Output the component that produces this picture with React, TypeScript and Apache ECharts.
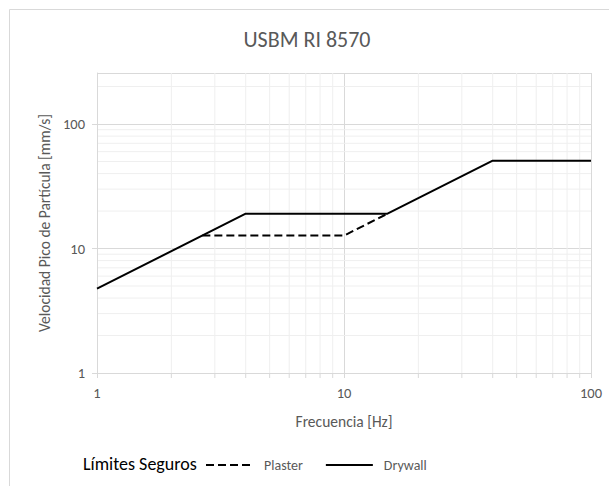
import React, { useEffect, useRef } from "react";
import * as echarts from "echarts";

const TITLE = "USBM RI 8570";
const X_NAME = "Frecuencia [Hz]";
const Y_NAME = "Velocidad Pico de Partícula [mm/s]";
const LEGEND_TITLE = "Límites Seguros";

const X_MIN = 1;
const X_MAX = 100;
const Y_MIN = 1;
const Y_MAX = 257;

const plasterPoints: [number, number][] = [
  [2.67, 12.7],
  [10, 12.7],
  [15, 19.05],
];
const drywallPoints: [number, number][] = [
  [1, 4.76],
  [4, 19.05],
  [15, 19.05],
  [40, 50.8],
  [100, 50.8],
];

const xMinor = [2, 3, 4, 5, 6, 7, 8, 9, 20, 30, 40, 50, 60, 70, 80, 90];
const yMinor = [2, 3, 4, 5, 6, 7, 8, 9, 20, 30, 40, 50, 60, 70, 80, 90, 200];

const FONT = "Carlito, Lato, 'Open Sans', sans-serif";
const GRAY_TEXT = "#595959";
const MAJOR = "#d9d9d9";
const MINOR = "#efefef";

export default function App() {
  const ref = useRef<HTMLDivElement>(null);
  useEffect(() => {
    if (!ref.current) return;
    const chart = echarts.init(ref.current, undefined, { renderer: "svg" });
    const minorData = [
      ...xMinor.map((v) => ({ value: [v, 0] })),
      ...yMinor.map((v) => ({ value: [v, 1] })),
    ];
    chart.setOption({
      animation: false,
      backgroundColor: "#ffffff",
      textStyle: { fontFamily: FONT },
      title: {
        text: TITLE,
        left: 302,
        textAlign: "center",
        top: 23,
        textStyle: { fontFamily: FONT, fontSize: 22, fontWeight: "normal", color: GRAY_TEXT },
      },
      graphic: [
        {
          type: "rect",
          shape: { x: 9.5, y: 9.5, width: 700, height: 600 },
          style: { fill: "none", stroke: MAJOR, lineWidth: 1 },
          silent: true,
          z: -1,
        },
        {
          type: "text",
          left: 83,
          top: 455,
          style: { text: LEGEND_TITLE, fontFamily: FONT, fontSize: 18, fill: "#000000" },
        },
      ],
      legend: {
        data: ["Plaster", "Drywall"],
        left: 205,
        top: 458,
        padding: 0,
        itemWidth: 47,
        itemHeight: 10,
        itemGap: 22,
        itemStyle: { opacity: 0 },
        textStyle: { fontFamily: FONT, fontSize: 14, color: GRAY_TEXT, padding: [0, 0, 0, 6] },
      },
      grid: { left: 97, right: 18, top: 73, bottom: 113, containLabel: false },
      xAxis: {
        type: "log",
        logBase: 10,
        min: X_MIN,
        max: X_MAX,
        name: X_NAME,
        nameLocation: "middle",
        nameGap: 40,
        nameTextStyle: { fontFamily: FONT, fontSize: 15.5, color: GRAY_TEXT },
        axisLine: { show: true, lineStyle: { color: MAJOR, width: 1 } },
        axisTick: { show: true, length: 5, lineStyle: { color: MAJOR } },
        axisLabel: { fontFamily: FONT, fontSize: 14.5, color: GRAY_TEXT, margin: 12 },
        splitLine: { show: true, lineStyle: { color: MAJOR, width: 1 } },
      },
      yAxis: {
        type: "log",
        logBase: 10,
        min: Y_MIN,
        max: Y_MAX,
        name: Y_NAME,
        nameLocation: "middle",
        nameGap: 45,
        nameTextStyle: { fontFamily: FONT, fontSize: 15.5, color: GRAY_TEXT },
        axisLine: { show: true, lineStyle: { color: MAJOR, width: 1 } },
        axisTick: { show: true, length: 5, lineStyle: { color: MAJOR } },
        axisLabel: { fontFamily: FONT, fontSize: 14.5, color: GRAY_TEXT, margin: 12, showMaxLabel: false },
        splitLine: { show: true, lineStyle: { color: MAJOR, width: 1 } },
      },
      series: [
        {
          name: "minor",
          type: "custom",
          silent: true,
          clip: false,
          z: 0,
          data: minorData,
          renderItem: (params: any, api: any) => {
            const v = api.value(0);
            const isY = api.value(1) === 1;
            if (!isY) {
              const bottom = api.coord([v, Y_MIN]);
              const top = api.coord([v, Y_MAX]);
              return {
                type: "group",
                children: [
                  {
                    type: "line",
                    shape: { x1: bottom[0], y1: bottom[1], x2: top[0], y2: top[1] },
                    style: { stroke: MINOR, lineWidth: 1 },
                  },
                  {
                    type: "line",
                    shape: { x1: bottom[0], y1: bottom[1], x2: bottom[0], y2: bottom[1] + 5 },
                    style: { stroke: MAJOR, lineWidth: 1 },
                  },
                ],
              };
            }
            const left = api.coord([X_MIN, v]);
            const right = api.coord([X_MAX, v]);
            return {
              type: "line",
              shape: { x1: left[0], y1: left[1], x2: right[0], y2: right[1] },
              style: { stroke: MINOR, lineWidth: 1 },
            };
          },
        },
        {
          name: "Plaster",
          type: "line",
          data: plasterPoints,
          showSymbol: false,
          symbol: "none",
          z: 3,
          lineStyle: { color: "#000000", width: 2, type: [8, 4] },
          itemStyle: { color: "#000000" },
        },
        {
          name: "Drywall",
          type: "line",
          data: drywallPoints,
          showSymbol: false,
          symbol: "none",
          z: 4,
          lineStyle: { color: "#000000", width: 2, type: "solid" },
          itemStyle: { color: "#000000" },
        },
      ],
    });
    return () => chart.dispose();
  }, []);
  return (
    <div
      ref={ref}
      style={{ position: "absolute", left: 0, top: 0, width: 609, height: 486, background: "#fff" }}
    />
  );
}
